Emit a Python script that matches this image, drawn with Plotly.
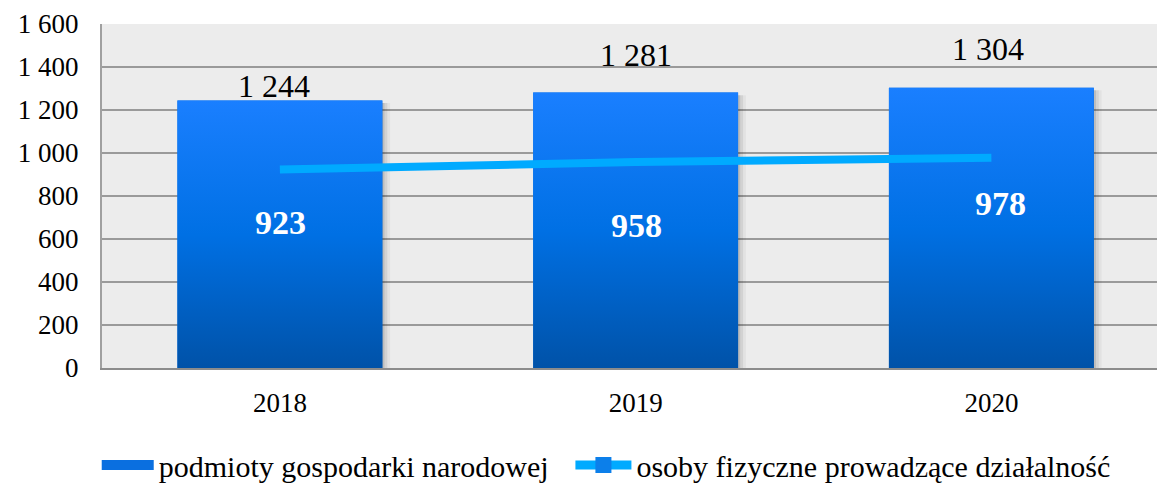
import plotly.graph_objects as go

# ---- data ----
years = ["2018", "2019", "2020"]
podmioty = [1244, 1281, 1304]          # podmioty gospodarki narodowej
osoby = [923, 958, 978]                # osoby fizyczne prowadzące działalność
y_tick_vals = [0, 200, 400, 600, 800, 1000, 1200, 1400, 1600]
y_tick_text = ["0", "200", "400", "600", "800", "1 000", "1 200", "1 400", "1 600"]
name_bars = "podmioty gospodarki narodowej"
name_line = "osoby fizyczne prowadzące działalność"

# ---- style ----
BAR_W = 0.576
FONT = "Liberation Serif"
bar_grad = [[0.0, "#0052A8"], [0.5, "#0070E4"], [1.0, "#1A7FFF"]]
bar_label_yshift = [14.5, 37.6, 38.6]
bar_label_xshift = [-6, 0, -3]
line_label_yshift = [-53.4, -63, -45.3]
line_label_xshift = [1, 1, 9]

def fmt(v):
    return f"{v:,}".replace(",", " ")

xs = list(range(len(years)))

fig = go.Figure()

# base bar trace (hidden under gradient fills)
fig.add_trace(go.Bar(
    x=xs, y=podmioty, width=BAR_W, name=name_bars, showlegend=False,
    marker=dict(color="#0A6FE0", line=dict(width=0)), hoverinfo="skip",
))

# shadows
for dx, alpha in [(0.006, 0.10), (0.014, 0.07), (0.022, 0.04)]:
    for i, v in zip(xs, podmioty):
        fig.add_trace(go.Scatter(
            x=[i - BAR_W / 2 + dx, i + BAR_W / 2 + dx, i + BAR_W / 2 + dx, i - BAR_W / 2 + dx, i - BAR_W / 2 + dx],
            y=[0, 0, v - 12, v - 12, 0],
            fill="toself", fillcolor=f"rgba(0,0,0,{alpha})", mode="none",
            showlegend=False, hoverinfo="skip",
        ))

# gradient bars
for i, v in zip(xs, podmioty):
    fig.add_trace(go.Scatter(
        x=[i - BAR_W / 2, i + BAR_W / 2, i + BAR_W / 2, i - BAR_W / 2, i - BAR_W / 2],
        y=[0, 0, v, v, 0],
        fill="toself", mode="none",
        fillgradient=dict(type="vertical", colorscale=bar_grad),
        showlegend=False, hoverinfo="skip",
    ))

# line
fig.add_trace(go.Scatter(
    x=xs, y=osoby, mode="lines", name=name_line, showlegend=False,
    line=dict(color="#00AAFF", width=8), hoverinfo="skip",
))

# legend entries (styled like the reference legend keys)
fig.add_trace(go.Scatter(
    x=[None], y=[None], mode="lines", name=name_bars, legend="legend",
    line=dict(color="#0A6FE0", width=16), hoverinfo="skip",
))
fig.add_trace(go.Scatter(
    x=[None], y=[None], mode="lines+markers", name=name_line, legend="legend2",
    line=dict(color="#00AAFF", width=9),
    marker=dict(symbol="square", size=16, color="#0C7FEA"), hoverinfo="skip",
))

# labels
for i, v in enumerate(podmioty):
    fig.add_annotation(x=xs[i], y=v, text=fmt(v), showarrow=False, yanchor="middle",
                       yshift=bar_label_yshift[i], xshift=bar_label_xshift[i],
                       font=dict(family=FONT, size=32, color="black"))
for i, v in enumerate(osoby):
    fig.add_annotation(x=xs[i], y=v, text=f"<b>{fmt(v)}</b>", showarrow=False, yanchor="middle",
                       yshift=line_label_yshift[i], xshift=line_label_xshift[i],
                       font=dict(family=FONT, size=34, color="white"))

plot_w = 1157 - 102
cat_px = 355.75

legend_common = dict(orientation="h", xanchor="left", y=-0.282, yanchor="middle",
                     font=dict(family=FONT, size=30, color="black"),
                     bgcolor="rgba(0,0,0,0)")

fig.update_layout(
    width=1157, height=483,
    margin=dict(l=102, r=0, t=24, b=115, autoexpand=False),
    paper_bgcolor="white", plot_bgcolor="#ECECEC",
    font=dict(family=FONT, size=27, color="black"),
    showlegend=True,
    legend=dict(x=-0.005, itemwidth=52, **legend_common),
    legend2=dict(x=0.444, itemwidth=56, **legend_common),
    xaxis=dict(range=[-0.5, -0.5 + plot_w / cat_px], tickvals=xs, ticktext=years,
               showgrid=False, zeroline=False, showline=True, linecolor="#8C8C8C", linewidth=2,
               ticks="", ticklabelstandoff=10, tickfont=dict(family=FONT, size=27),
               automargin=False),
    yaxis=dict(range=[0, 1600], tickvals=y_tick_vals, ticktext=y_tick_text,
               showgrid=True, gridcolor="#9A9A9A", gridwidth=2, zeroline=False,
               showline=True, linecolor="#A0A0A0", linewidth=2,
               ticks="", ticklabelstandoff=16, tickfont=dict(family=FONT, size=27),
               automargin=False),
)

fig.write_html("out.html", config={"displayModeBar": False},
               post_script="document.body.style.margin='0';")
